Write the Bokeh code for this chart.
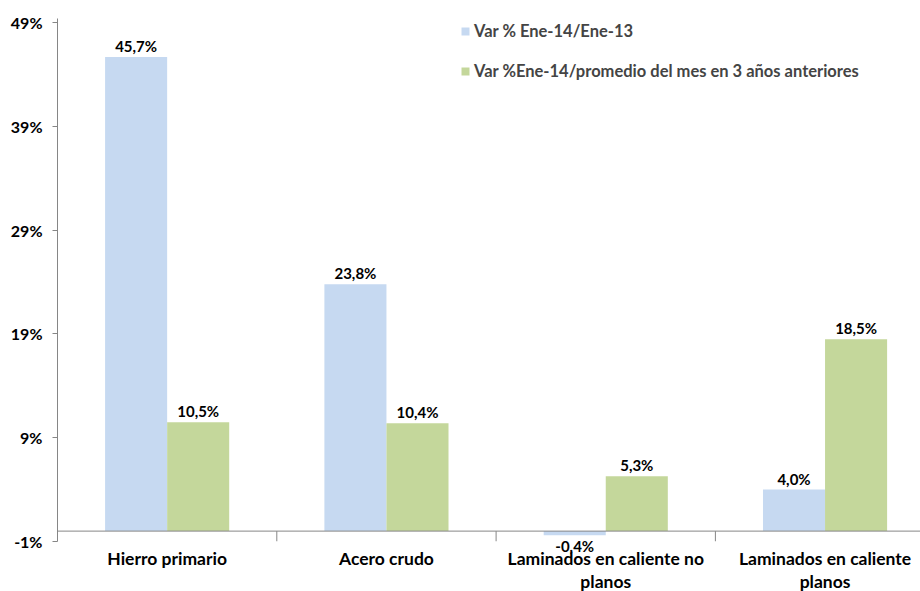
from bokeh.plotting import figure
from bokeh.models import (ColumnDataSource, Range1d, FixedTicker, Span, Legend, LegendItem)
from bokeh.core.properties import value
from bokeh.embed import file_html
from bokeh.resources import INLINE

categories = ["Hierro primario", "Acero crudo", "Laminados en caliente no\nplanos", "Laminados en caliente\nplanos"]
var_anual = [45.7, 23.8, -0.4, 4.0]
var_promedio = [10.5, 10.4, 5.3, 18.5]
series_names = ["Var % Ene-14/Ene-13", "Var %Ene-14/promedio del mes en 3 años anteriores"]
y_ticks = [-1, 9, 19, 29, 39, 49]

BLUE = "#C6D9F1"
GREEN = "#C4D79B"
GRAY = "#868686"
FONT = "Lato"

n = len(categories)
centers = [i + 0.5 for i in range(n)]
bw = 0.283

def fmt(v):
    return f"{v:.1f}".replace(".", ",") + "%"

src_a = ColumnDataSource(dict(x=[c - bw / 2 for c in centers], top=var_anual,
                              lab=[fmt(v) for v in var_anual]))
src_b = ColumnDataSource(dict(x=[c + bw / 2 for c in centers], top=var_promedio,
                              lab=[fmt(v) for v in var_promedio]))

p = figure(width=920, height=591, output_backend="svg", toolbar_location=None,
           x_range=Range1d(0, 863 / 219.3), y_range=Range1d(-1, 49.4),
           min_border_left=57, min_border_right=0, min_border_top=18, min_border_bottom=50)
p.outline_line_color = None
p.grid.visible = False
p.xaxis.visible = False
p.background_fill_color = "white"
p.border_fill_color = "white"

ya = p.yaxis[0]
ya.ticker = FixedTicker(ticks=y_ticks, minor_ticks=[])
ya.major_label_overrides = {t: f"{t}%" for t in y_ticks}
ya.axis_line_color = GRAY
ya.major_tick_line_color = GRAY
ya.major_tick_out = 5
ya.major_tick_in = 0
ya.minor_tick_line_color = None
ya.major_label_text_font = FONT
ya.major_label_text_font_style = "bold"
ya.major_label_text_font_size = "16px"
ya.major_label_text_color = "black"
ya.major_label_standoff = 10

ra = p.vbar(x="x", top="top", bottom=0, width=bw, source=src_a, fill_color=BLUE, line_color=None)
rb = p.vbar(x="x", top="top", bottom=0, width=bw, source=src_b, fill_color=GREEN, line_color=None)

# x axis line at zero and boundary ticks
p.add_layout(Span(location=0, dimension="width", line_color=GRAY, line_width=1))
bounds = list(range(1, n))
p.segment(x0=bounds, y0=[0] * len(bounds), x1=bounds, y1=[-1] * len(bounds), line_color=GRAY, line_width=1)

# data labels
for src, vals in ((src_a, var_anual), (src_b, var_promedio)):
    up = [i for i, v in enumerate(vals) if v >= 0]
    dn = [i for i, v in enumerate(vals) if v < 0]
    d = src.data
    if up:
        t = p.text(x=[d["x"][i] for i in up], y=[d["top"][i] for i in up], text=[d["lab"][i] for i in up],
                   text_align="center", text_baseline="bottom", y_offset=-2,
                   text_font=value(FONT), text_font_style="bold", text_font_size="15px", text_color="black")
        t.level = "overlay"
    if dn:
        t = p.text(x=[d["x"][i] for i in dn], y=[d["top"][i] for i in dn], text=[d["lab"][i] for i in dn],
                   text_align="center", text_baseline="top", y_offset=2,
                   text_font=value(FONT), text_font_style="bold", text_font_size="15px", text_color="black")
        t.level = "overlay"

# category labels
cl = p.text(x=centers, y=[-1] * n, text=categories, text_align="center", text_baseline="top",
            y_offset=6, text_line_height=1.12,
            text_font=value(FONT), text_font_style="bold", text_font_size="17.5px", text_color="black")
cl.level = "overlay"

legend = Legend(items=[LegendItem(label=series_names[0], renderers=[ra]),
                       LegendItem(label=series_names[1], renderers=[rb])],
                location=(403, 460), orientation="vertical",
                glyph_width=10, glyph_height=10, label_height=14, spacing=20,
                label_standoff=4, padding=0, margin=0,
                border_line_color=None, background_fill_alpha=0,
                label_text_font=FONT, label_text_font_style="bold", label_text_font_size="16.5px")
p.add_layout(legend)

open("out.html", "w").write(file_html(p, INLINE))
